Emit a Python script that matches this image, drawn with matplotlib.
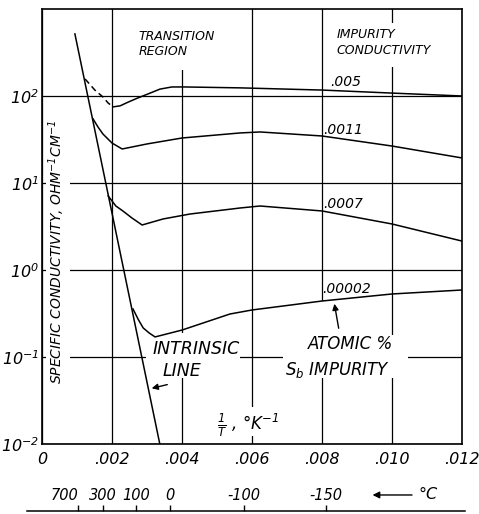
import matplotlib
matplotlib.use('Agg')
import matplotlib.pyplot as plt
from matplotlib.patches import Rectangle

plt.rcParams['font.family'] = 'DejaVu Sans'
plt.rcParams['font.style'] = 'italic'
plt.rcParams['mathtext.default'] = 'it'

# intrinsic line (log conductivity vs 1/T)
intrinsic_x = [0.00094, 0.00337]
intrinsic_y = [517, 0.0098]

# .005 % Sb: dashed part then solid
dash005_x = [0.00123, 0.00151, 0.00174, 0.00189, 0.00203]
dash005_y = [157, 117, 97.5, 83, 75]
c005_x = [0.00203, 0.00223, 0.00246, 0.00274, 0.00309, 0.00337, 0.00371, 0.00409, 0.00566, 0.0080, 0.0100, 0.0120]
c005_y = [75, 77, 85, 95, 108, 120, 127, 127, 124, 117, 108, 100]

c0011_x = [0.00146, 0.00160, 0.00174, 0.0020, 0.00229, 0.0030, 0.0040, 0.00566, 0.00623, 0.0080, 0.0100, 0.0120]
c0011_y = [54.4, 44.0, 36.6, 28.8, 24.6, 28.1, 32.9, 37.6, 38.6, 34.7, 26.6, 19.4]

c0007_x = [0.00189, 0.00211, 0.00231, 0.00257, 0.00286, 0.00346, 0.00423, 0.00566, 0.00623, 0.0080, 0.0100, 0.0120]
c0007_y = [7.09, 5.44, 4.77, 3.96, 3.29, 3.86, 4.40, 5.16, 5.44, 4.77, 3.38, 2.15]

c00002_x = [0.0026, 0.00275, 0.00289, 0.00306, 0.00323, 0.0040, 0.00537, 0.0060, 0.0080, 0.0100, 0.0120]
c00002_y = [0.356, 0.27, 0.216, 0.189, 0.170, 0.204, 0.312, 0.347, 0.44, 0.53, 0.589]

curve_labels = ['.005', '.0011', '.0007', '.00002']
label_x = [0.00823, 0.00803, 0.00803, 0.00800]
label_y = [130, 36.6, 5.16, 0.544]

x_ticks = [0, 0.002, 0.004, 0.006, 0.008, 0.010, 0.012]
x_ticklabels = ['0', '.002', '.004', '.006', '.008', '.010', '.012']
y_ticks = [1e-2, 1e-1, 1e0, 1e1, 1e2]
y_ticklabels = ['$10^{-2}$', '$10^{-1}$', '$10^{0}$', '$10^{1}$', '$10^{2}$']

temps_c = [700, 300, 100, 0, -100, -150]
temp_labels = ['700', '300', '100', '0', '-100', '-150']

fig = plt.figure(figsize=(4.79, 5.14), dpi=100)
ax = fig.add_axes([0.0877, 0.1362, 0.8768, 0.8463])
ax.set_yscale('log')
ax.set_xlim(0, 0.012)
ax.set_ylim(1e-2, 1e3)
ax.set_axisbelow(True)
ax.grid(True, color='black', lw=0.9)
ax.minorticks_off()
ax.set_xticks(x_ticks)
ax.set_xticklabels(x_ticklabels, fontsize=11.5)
ax.set_yticks(y_ticks)
ax.set_yticklabels(y_ticklabels, fontsize=11.5)
ax.tick_params(length=0)
ax.tick_params(axis='x', pad=6)
ax.tick_params(axis='y', pad=2)
for s in ax.spines.values():
    s.set_linewidth(1.2)

# white patches where the lettering breaks the grid
masks = [(0.205, 0.860, 0.257, 0.140), (0.686, 0.867, 0.304, 0.101),
         (0.0095, 0.090, 0.057, 0.701), (0.248, 0.152, 0.223, 0.103),
         (0.574, 0.152, 0.297, 0.099), (0.643, 0.250, 0.047, 0.079),
         (0.412, 0.018, 0.183, 0.067)]
for m in masks:
    ax.add_patch(Rectangle(m[:2], m[2], m[3], transform=ax.transAxes,
                           facecolor='white', edgecolor='none', zorder=1))

kw = dict(color='black', lw=1.1, zorder=3)
ax.plot(intrinsic_x, intrinsic_y, **kw)
ax.plot(dash005_x, dash005_y, ls=(0, (4, 2.5)), **kw)
ax.plot(c005_x, c005_y, **kw)
ax.plot(c0011_x, c0011_y, **kw)
ax.plot(c0007_x, c0007_y, **kw)
ax.plot(c00002_x, c00002_y, **kw)

for t, x, y in zip(curve_labels, label_x, label_y):
    ax.text(x, y, t, fontsize=10, ha='left', va='baseline', zorder=4)

ax.text(0.229, 0.952, 'TRANSITION\nREGION', transform=ax.transAxes,
        fontsize=9, va='top', ha='left', linespacing=1.25)
ax.text(0.702, 0.956, 'IMPURITY\nCONDUCTIVITY', transform=ax.transAxes,
        fontsize=9, va='top', ha='left', linespacing=1.25)
ax.text(0.036, 0.441, 'SPECIFIC CONDUCTIVITY, OHM$^{-1}$CM$^{-1}$',
        transform=ax.transAxes, rotation=90, fontsize=10, ha='center', va='center')
ax.text(0.262, 0.240, 'INTRINSIC', transform=ax.transAxes, fontsize=12.5, va='top')
ax.text(0.286, 0.188, 'LINE', transform=ax.transAxes, fontsize=12.5, va='top')
ax.text(0.633, 0.251, 'ATOMIC %', transform=ax.transAxes, fontsize=12, va='top')
ax.text(0.578, 0.193, 'S$_b$ IMPURITY', transform=ax.transAxes, fontsize=12, va='top')
ax.text(0.417, 0.044, r'$\frac{1}{T}$ , °K$^{-1}$', transform=ax.transAxes,
        fontsize=12, ha='left', va='center')

ap = dict(arrowstyle='-|>', color='black', lw=1.0, mutation_scale=9)
ax.annotate('', xy=(0.003057, 0.0429), xytext=(0.003657, 0.049), arrowprops=ap, zorder=4)
ax.annotate('', xy=(0.00834, 0.44), xytext=(0.00849, 0.199), arrowprops=ap, zorder=4)

# temperature scale underneath
ax2 = fig.add_axes([0.0877, 0.0058, 0.8768, 0.0001])
ax2.set_xlim(0, 0.012)
ax2.set_yticks([])
for s in ax2.spines.values():
    s.set_visible(False)
ax2.plot([-0.036, 1.007], [0, 0], transform=ax2.transAxes, color='black',
         lw=1.1, clip_on=False)
ax2.set_xticks([1 / (t + 273.15) for t in temps_c])
ax2.set_xticklabels(temp_labels, fontsize=10.5)
ax2.xaxis.set_ticks_position('top')
ax2.xaxis.set_label_position('top')
ax2.tick_params(axis='x', direction='out', length=4.3, width=1.0, pad=1.5)
ax2.get_xticklabels()[0].set_ha('right')
fig.text(0.894, 0.037, '°C', fontsize=11.5, ha='center', va='center')
fig.patches.append(matplotlib.patches.FancyArrowPatch(
    (0.866, 0.037), (0.772, 0.037), transform=fig.transFigure,
    arrowstyle='-|>', mutation_scale=10, color='black', lw=1.0))

fig.savefig('out.png', dpi=100)
